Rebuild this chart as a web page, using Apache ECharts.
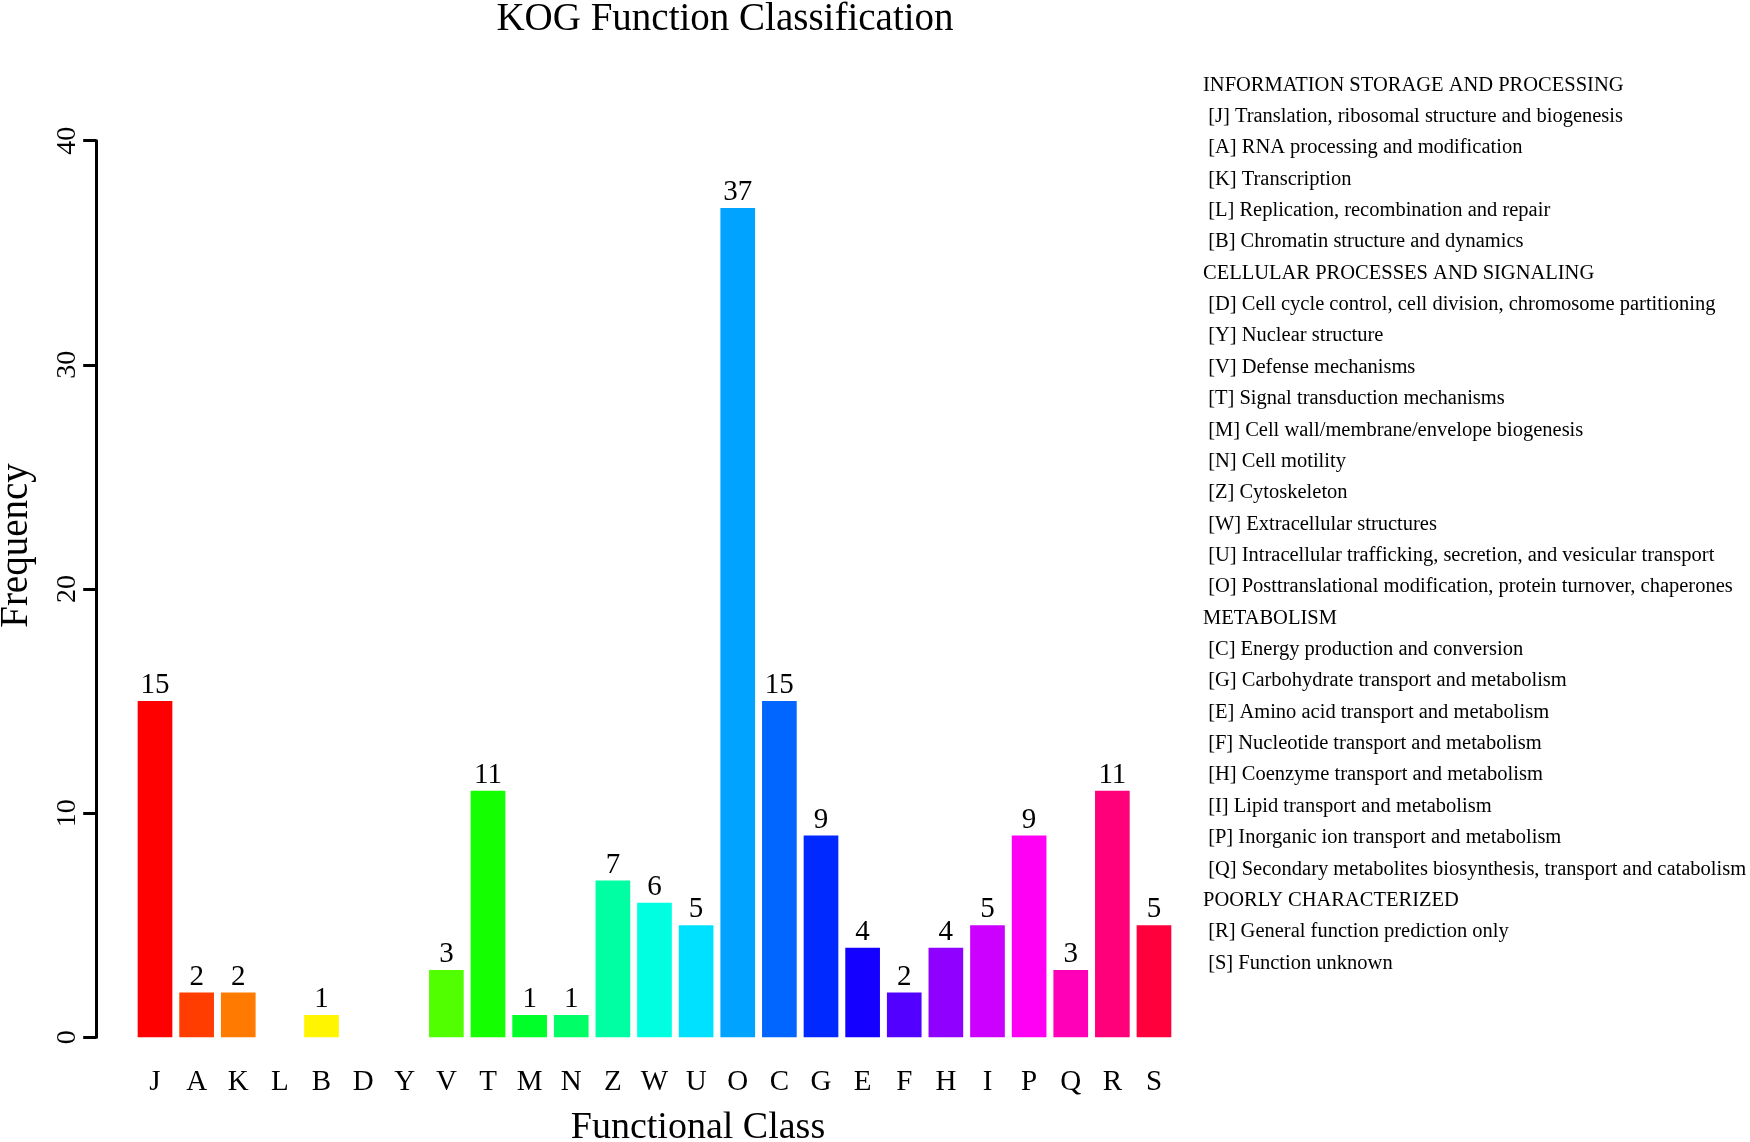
<!DOCTYPE html>
<html>
<head>
<meta charset="utf-8">
<title>KOG Function Classification</title>
<script src="https://cdn.jsdelivr.net/npm/echarts@6/dist/echarts.min.js"></script>
<style>
    html, body { margin: 0; padding: 0; background: #fff; }
    #chart { width: 1750px; height: 1142px; }
</style>
</head>
<body>
<div id="chart"></div>
<script>
// KOG classes, in the order they are plotted
const categories = ['J', 'A', 'K', 'L', 'B', 'D', 'Y', 'V', 'T', 'M', 'N', 'Z', 'W',
    'U', 'O', 'C', 'G', 'E', 'F', 'H', 'I', 'P', 'Q', 'R', 'S'];
const frequency = [15, 2, 2, 0, 1, 0, 0, 3, 11, 1, 1, 7, 6,
    5, 37, 15, 9, 4, 2, 4, 5, 9, 3, 11, 5];
const yTicks = [0, 10, 20, 30, 40];

// R rainbow(25)
const barColors = ['#FF0000', '#FF3D00', '#FF7A00', '#FFB800', '#FFF500', '#CCFF00', '#8FFF00',
    '#52FF00', '#14FF00', '#00FF29', '#00FF66', '#00FFA3', '#00FFE0', '#00E0FF', '#00A3FF',
    '#0066FF', '#0029FF', '#1400FF', '#5200FF', '#8F00FF', '#CC00FF', '#FF00F5', '#FF00B8',
    '#FF007A', '#FF003D'];

const groupNames = ['INFORMATION STORAGE AND PROCESSING', 'CELLULAR PROCESSES AND SIGNALING',
    'METABOLISM', 'POORLY CHARACTERIZED'];
const groupClasses = [
    ['J', 'A', 'K', 'L', 'B'],
    ['D', 'Y', 'V', 'T', 'M', 'N', 'Z', 'W', 'U', 'O'],
    ['C', 'G', 'E', 'F', 'H', 'I', 'P', 'Q'],
    ['R', 'S']
];
const classNames = {
    J: 'Translation, ribosomal structure and biogenesis',
    A: 'RNA processing and modification',
    K: 'Transcription',
    L: 'Replication, recombination and repair',
    B: 'Chromatin structure and dynamics',
    D: 'Cell cycle control, cell division, chromosome partitioning',
    Y: 'Nuclear structure',
    V: 'Defense mechanisms',
    T: 'Signal transduction mechanisms',
    M: 'Cell wall/membrane/envelope biogenesis',
    N: 'Cell motility',
    Z: 'Cytoskeleton',
    W: 'Extracellular structures',
    U: 'Intracellular trafficking, secretion, and vesicular transport',
    O: 'Posttranslational modification, protein turnover, chaperones',
    C: 'Energy production and conversion',
    G: 'Carbohydrate transport and metabolism',
    E: 'Amino acid transport and metabolism',
    F: 'Nucleotide transport and metabolism',
    H: 'Coenzyme transport and metabolism',
    I: 'Lipid transport and metabolism',
    P: 'Inorganic ion transport and metabolism',
    Q: 'Secondary metabolites biosynthesis, transport and catabolism',
    R: 'General function prediction only',
    S: 'Function unknown'
};

const FONT = '"Liberation Serif", "Times New Roman", Times, serif';

// legend lines: group header, then " [X] description"
const legendLines = [];
groupNames.forEach(function (name, i) {
    legendLines.push(name);
    groupClasses[i].forEach(function (c) {
        legendLines.push(' [' + c + '] ' + classNames[c]);
    });
});

const chart = echarts.init(document.getElementById('chart'), null, { renderer: 'canvas' });

chart.setOption({
    backgroundColor: '#fff',
    animation: false,
    title: {
        text: 'KOG Function Classification',
        left: 725,
        top: 0,
        padding: 0,
        textAlign: 'center',
        textVerticalAlign: 'top',
        textStyle: { fontFamily: FONT, fontSize: 39, fontWeight: 'normal', color: '#000' }
    },
    grid: {
        left: 134.2, right: 575.2, top: 140.7, bottom: 104.7,
        containLabel: false,
        outerBoundsMode: 'none'
    },
    xAxis: {
        type: 'category',
        data: categories,
        axisLine: { show: false },
        axisTick: { show: false },
        axisLabel: {
            interval: 0, margin: 31, color: '#000',
            fontFamily: FONT, fontSize: 29
        },
        name: 'Functional Class',
        nameLocation: 'middle',
        nameGap: 72,
        nameTextStyle: { fontFamily: FONT, fontSize: 38, color: '#000', padding: [0, 0, 0, 87] }
    },
    yAxis: {
        type: 'value',
        min: yTicks[0],
        max: yTicks[yTicks.length - 1],
        interval: yTicks[1] - yTicks[0],
        offset: 38,
        splitLine: { show: false },
        axisLine: { show: true, lineStyle: { color: '#000', width: 3 } },
        axisTick: { show: true, length: 13, lineStyle: { color: '#000', width: 3 } },
        axisLabel: {
            rotate: 90, margin: 15, color: '#000',
            fontFamily: FONT, fontSize: 28
        },
        name: 'Frequency',
        nameLocation: 'middle',
        nameGap: 60,
        nameTextStyle: { fontFamily: FONT, fontSize: 39, color: '#000', padding: [0, 0, 0, 87] }
    },
    series: [{
        type: 'bar',
        data: frequency.map(function (v, i) {
            return { value: v, itemStyle: { color: barColors[i] } };
        }),
        barCategoryGap: '16.7%',
        label: {
            show: true,
            position: 'top',
            distance: 1,
            color: '#000',
            fontFamily: FONT,
            fontSize: 29,
            formatter: function (p) { return p.value > 0 ? String(p.value) : ''; }
        }
    }],
    graphic: [{
        type: 'text',
        left: 1203,
        top: 69.5,
        style: {
            text: legendLines.join('\n'),
            font: '20.5px ' + FONT,
            lineHeight: 31.36,
            fill: '#000',
            textAlign: 'left',
            textVerticalAlign: 'top'
        }
    }]
});
</script>
</body>
</html>
